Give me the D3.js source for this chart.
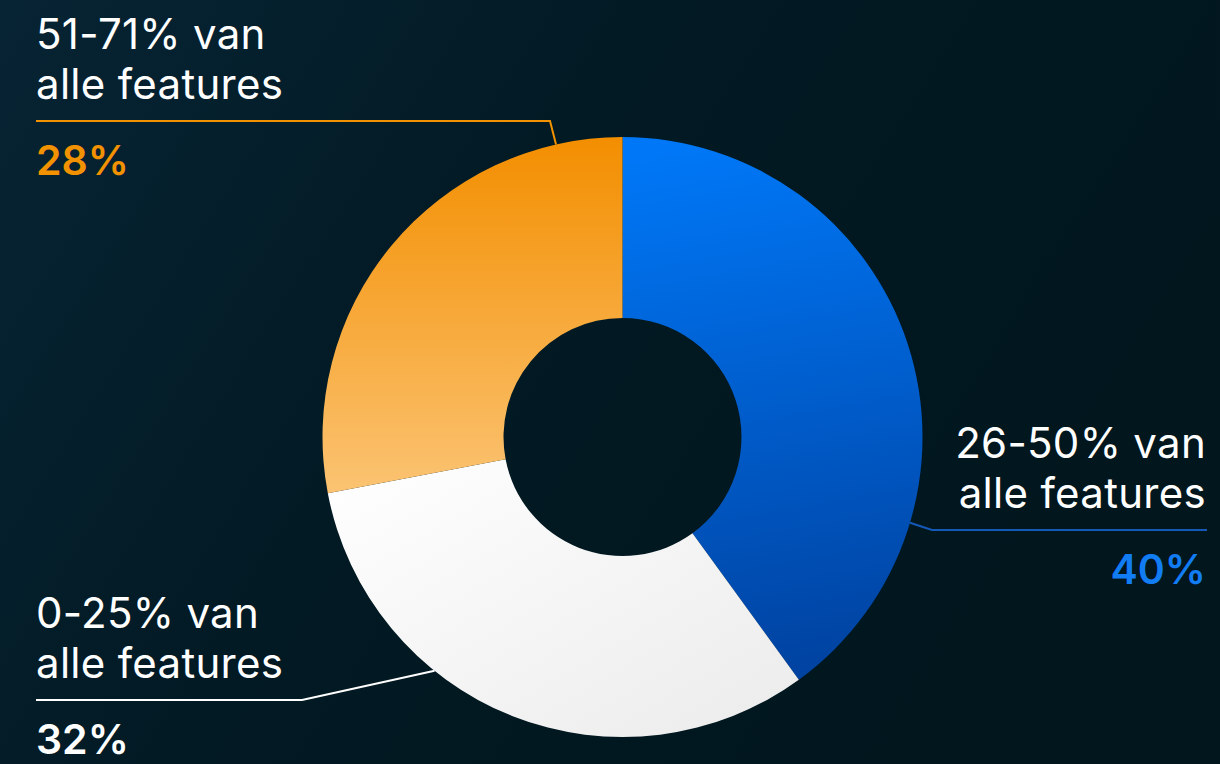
<!DOCTYPE html>
<html>
<head>
<meta charset="utf-8">
<script src="https://cdn.jsdelivr.net/npm/d3@7"></script>
<style>
  html, body { margin: 0; padding: 0; background: #011820; }
  svg { display: block; }
  text { font-family: Inter, "Noto Sans", sans-serif; }
</style>
</head>
<body>
<svg id="chart" width="1220" height="764"></svg>
<script>
// Share of features used, per usage bracket
const categories = ["26-50% van alle features", "0-25% van alle features", "51-71% van alle features"];
const lineOne   = ["26-50% van", "0-25% van", "51-71% van"];
const lineTwo   = ["alle features", "alle features", "alle features"];
const values    = [40, 32, 28];
const pctLabels = ["40%", "32%", "28%"];

const W = 1220, H = 764;
const cx = 622.5, cy = 437;
const outerR = 300, innerR = 119;

const svg = d3.select("#chart");
const defs = svg.append("defs");

// Background
const bg = defs.append("linearGradient").attr("id", "bg")
  .attr("x1", 0).attr("y1", 0).attr("x2", 1).attr("y2", 0.4);
bg.append("stop").attr("offset", 0).attr("stop-color", "#072434");
bg.append("stop").attr("offset", 0.45).attr("stop-color", "#021a24");
bg.append("stop").attr("offset", 1).attr("stop-color", "#01161d");
svg.append("rect").attr("width", W).attr("height", H).attr("fill", "url(#bg)");

// Slice fills
const fills = [
  { id: "gBlue",   x1: 0.45, y1: 0, x2: 0.55, y2: 1, stops: ["#0077f6", "#0042a0"] },
  { id: "gWhite",  x1: 0,    y1: 0, x2: 1,    y2: 1, stops: ["#ffffff", "#ebebeb"] },
  { id: "gOrange", x1: 0,    y1: 0, x2: 0,    y2: 1, stops: ["#f38e00", "#fbc372"] }
];
fills.forEach(f => {
  const g = defs.append("linearGradient").attr("id", f.id)
    .attr("x1", f.x1).attr("y1", f.y1).attr("x2", f.x2).attr("y2", f.y2);
  g.append("stop").attr("offset", 0).attr("stop-color", f.stops[0]);
  g.append("stop").attr("offset", 1).attr("stop-color", f.stops[1]);
});

const textColors = ["#127cf3", "#ffffff", "#f39200"];
const lineColors = ["#1459b8", "#ffffff", "#f39200"];

const pie = d3.pie().sort(null).value(d => d)(values);
const arc = d3.arc().innerRadius(innerR).outerRadius(outerR);
const edge = d3.arc().innerRadius(outerR).outerRadius(outerR);

const g = svg.append("g").attr("transform", `translate(${cx},${cy})`);
g.selectAll("path.slice").data(pie).join("path")
  .attr("class", "slice")
  .attr("d", arc)
  .attr("fill", (d, i) => `url(#${fills[i].id})`);

// Label layout: where each leader touches the ring (degrees clockwise from top),
// the y of the horizontal rule, its x-extent, and the text alignment.
const layout = [
  { angle: 106.6, ruleY: 530, elbowX: 932, endX: 1207, align: "end",   textX: 1206 },
  { angle: 218.8, ruleY: 700, elbowX: 302, endX: 36,   align: "start", textX: 36 },
  { angle: 347.2, ruleY: 121, elbowX: 550, endX: 36,   align: "start", textX: 36 }
];

const labels = svg.append("g");
pie.forEach((d, i) => {
  const L = layout[i];
  const a = L.angle * Math.PI / 180;
  const [ax, ay] = edge.startAngle(a).endAngle(a).centroid();
  const pts = [[cx + ax, cy + ay], [L.elbowX, L.ruleY], [L.endX, L.ruleY]];
  labels.append("path")
    .attr("d", d3.line()(pts))
    .attr("fill", "none")
    .attr("stroke", lineColors[i])
    .attr("stroke-width", 2);

  [[lineOne[i], L.ruleY - 72], [lineTwo[i], L.ruleY - 22]].forEach(([t, y]) => {
    labels.append("text")
      .attr("x", L.textX).attr("y", y)
      .attr("text-anchor", L.align)
      .attr("fill", "#ffffff")
      .attr("font-size", 42)
      .attr("letter-spacing", 0.3)
      .text(t);
  });
  labels.append("text")
    .attr("x", L.textX).attr("y", L.ruleY + 54)
    .attr("text-anchor", L.align)
    .attr("fill", textColors[i])
    .attr("font-size", 41)
    .attr("font-weight", 600)
    .text(pctLabels[i]);
});
</script>
</body>
</html>
